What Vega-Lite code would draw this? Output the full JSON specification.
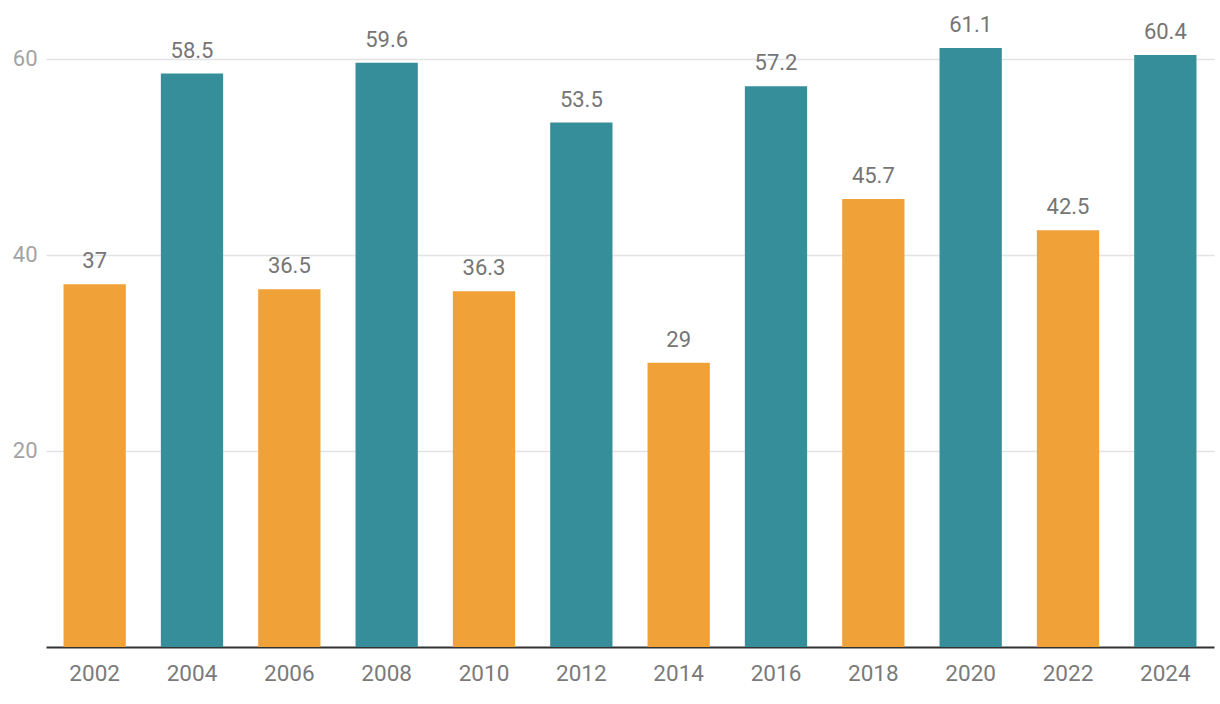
{
  "$schema": "https://vega.github.io/schema/vega-lite/v6.json",
  "autosize": {"type": "none"},
  "width": 1168,
  "height": 647,
  "padding": {"left": 46, "top": 0, "right": 6, "bottom": 57},
  "background": "white",
  "config": {"view": {"stroke": null}, "font": "Roboto"},
  "data": {
    "values": [
      {"year": "2002", "value": 37, "type": "Midterm"},
      {"year": "2004", "value": 58.5, "type": "Presidential"},
      {"year": "2006", "value": 36.5, "type": "Midterm"},
      {"year": "2008", "value": 59.6, "type": "Presidential"},
      {"year": "2010", "value": 36.3, "type": "Midterm"},
      {"year": "2012", "value": 53.5, "type": "Presidential"},
      {"year": "2014", "value": 29, "type": "Midterm"},
      {"year": "2016", "value": 57.2, "type": "Presidential"},
      {"year": "2018", "value": 45.7, "type": "Midterm"},
      {"year": "2020", "value": 61.1, "type": "Presidential"},
      {"year": "2022", "value": 42.5, "type": "Midterm"},
      {"year": "2024", "value": 60.4, "type": "Presidential"}
    ]
  },
  "encoding": {
    "x": {
      "field": "year", "type": "nominal", "sort": null,
      "scale": {"paddingInner": 0.36, "paddingOuter": 0.18},
      "axis": {
        "title": null, "labelAngle": 0, "ticks": false,
        "domainColor": "#333333", "domainWidth": 2,
        "labelColor": "#7a7a7a", "labelFontSize": 22.5, "labelPadding": 15,
        "labelFont": "Roboto"
      }
    },
    "y": {
      "field": "value", "type": "quantitative",
      "scale": {"domain": [0, 66], "nice": false},
      "axis": {
        "title": null, "values": [20, 40, 60], "domain": false, "ticks": false,
        "gridColor": "#e3e3e3", "gridWidth": 1.5,
        "labelColor": "#a3a3a3", "labelFontSize": 22, "labelPadding": 9,
        "labelFont": "Roboto"
      }
    }
  },
  "layer": [
    {
      "mark": {"type": "bar"},
      "encoding": {
        "color": {
          "field": "type", "type": "nominal",
          "scale": {"domain": ["Midterm", "Presidential"], "range": ["#F0A238", "#368E9A"]},
          "legend": null
        }
      }
    },
    {
      "mark": {"type": "text", "baseline": "alphabetic", "dy": -16, "fontSize": 22, "color": "#757575", "font": "Roboto"},
      "encoding": {"text": {"field": "value", "type": "quantitative"}}
    }
  ]
}
